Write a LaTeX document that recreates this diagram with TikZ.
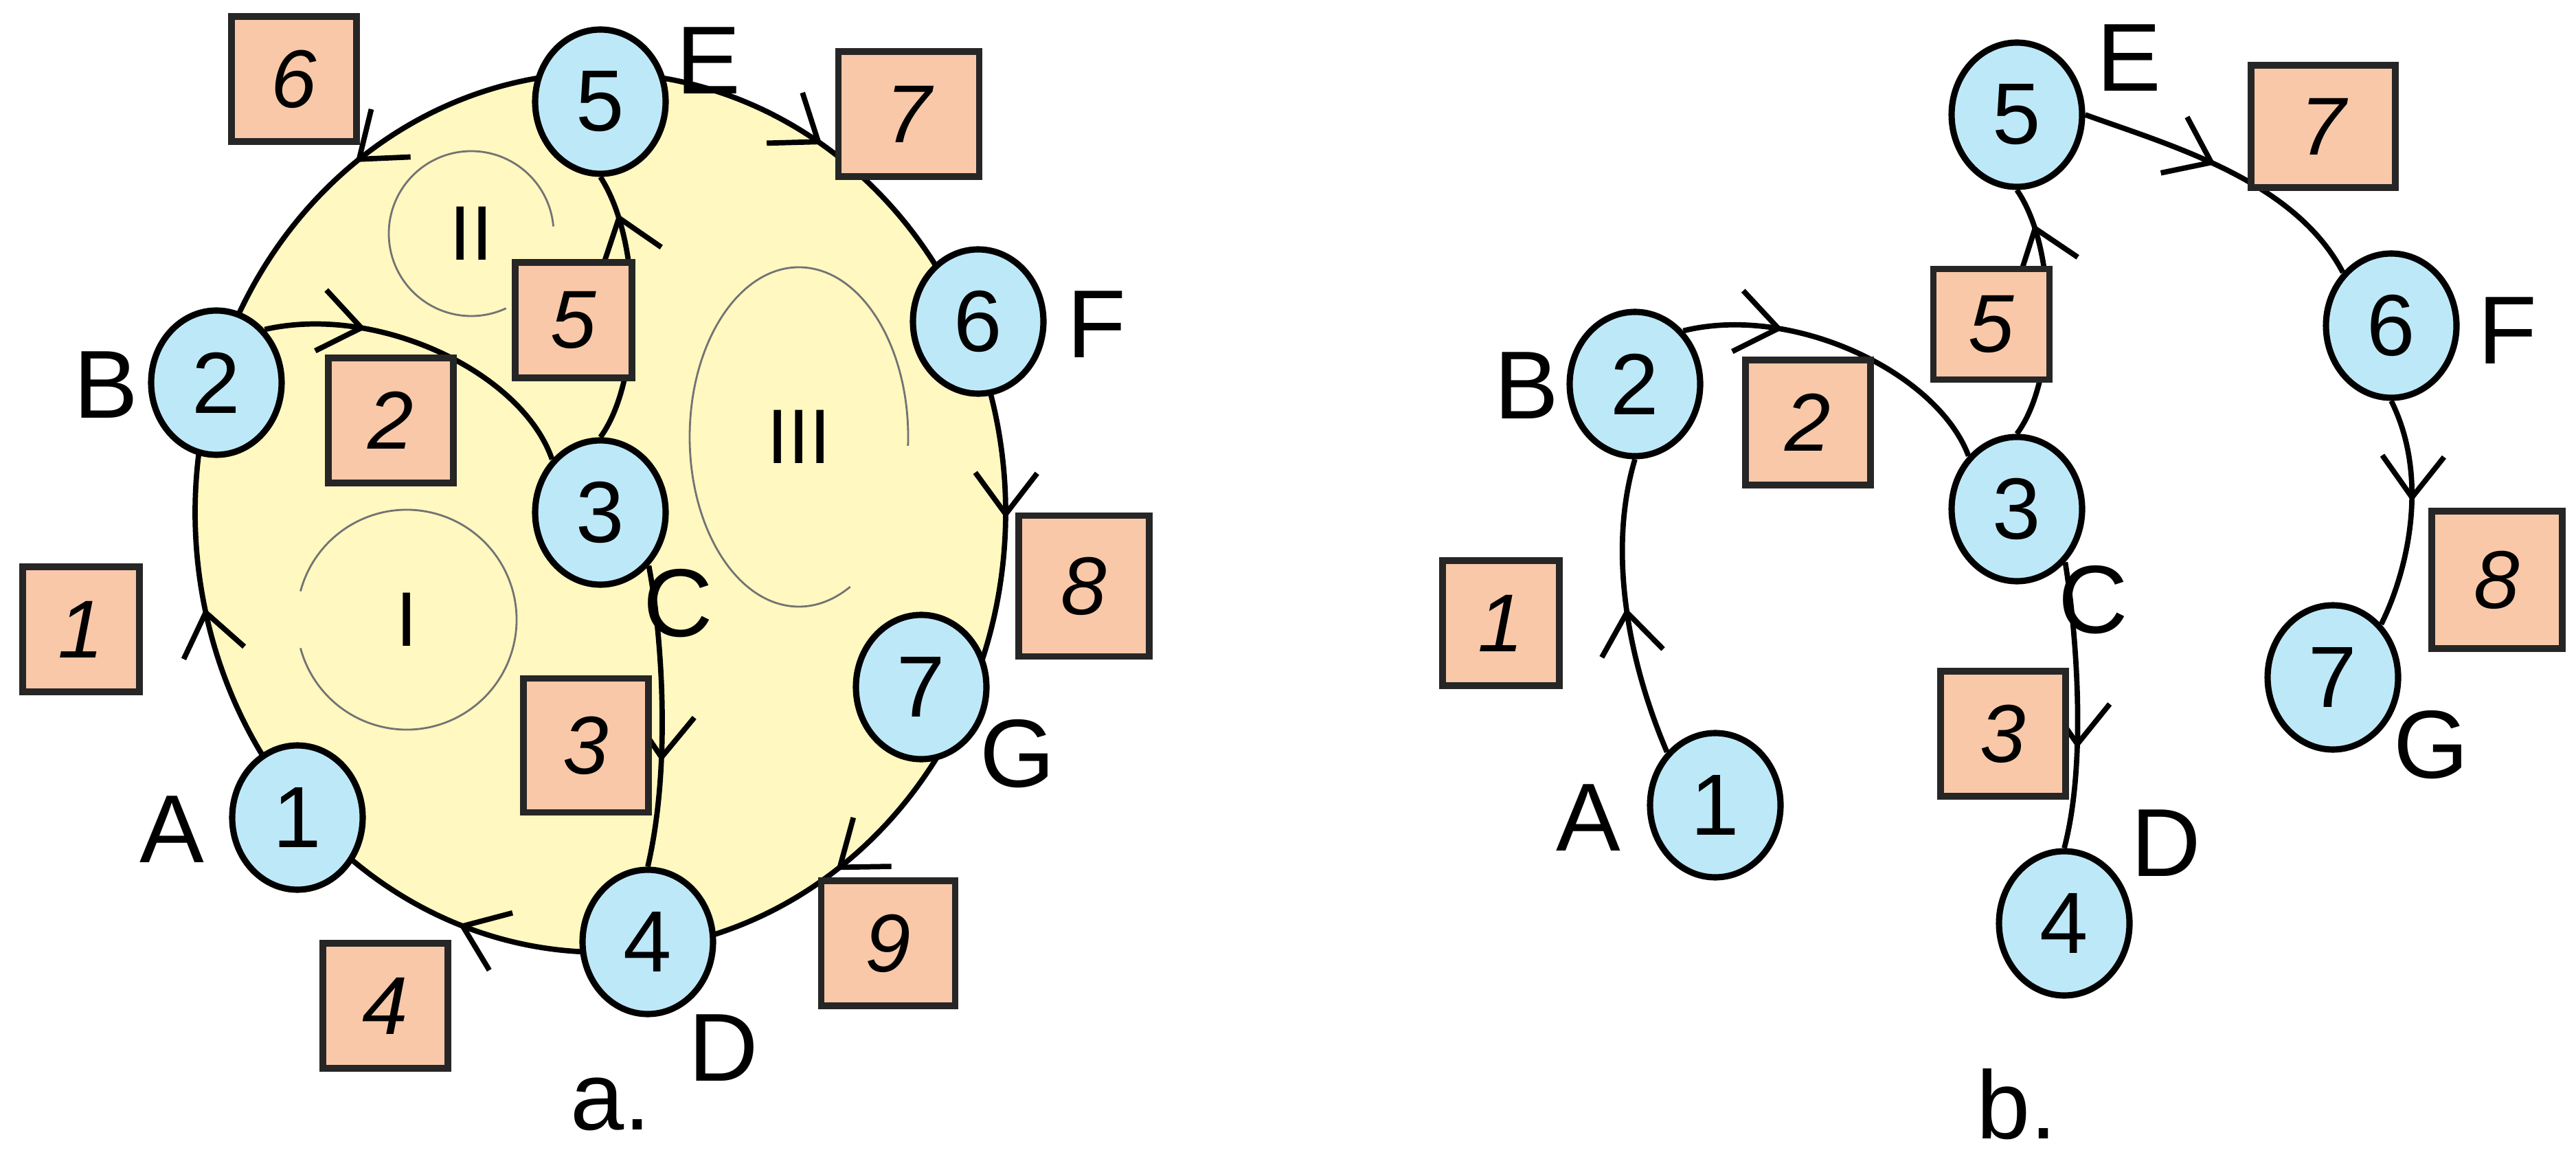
\documentclass[tikz,border=0pt]{standalone}
\usepackage{fontspec}
\setmainfont{Liberation Sans}
\usetikzlibrary{shapes.geometric,arrows.meta,decorations.markings,calc}
\definecolor{nodeblue}{HTML}{BDE8F8}
\definecolor{boxpeach}{HTML}{F8C8A8}
\definecolor{bgyellow}{HTML}{FFF8C0}
\tikzset{
  vnode/.style={ellipse,draw=black,line width=2.6pt,fill=nodeblue,minimum width=1.9cm,minimum height=2.1cm,inner sep=0pt,font=\fontsize{36}{40}\selectfont},
  numbox/.style={rectangle,draw=black!85,line width=2.6pt,fill=boxpeach,minimum width=1.82cm,minimum height=1.82cm,inner sep=0pt,font=\fontsize{34}{38}\selectfont\itshape},
  letter/.style={font=\fontsize{40}{44}\selectfont,inner sep=0pt},
  loopline/.style={draw=black!55,line width=0.8pt},
  edge/.style={draw=black,line width=2.2pt},
  arr/.style={edge,postaction={decorate},decoration={markings,mark=at position #1 with {\arrow{Straight Barb[length=6mm,width=9mm,line width=2.2pt]}}}},
  arr/.default=0.5
}
\begin{document}
\begin{tikzpicture}
\useasboundingbox (0,0) rectangle (37.5,17.02);
% ---------- a ----------
\coordinate (O) at (8.74,9.56);
\fill[bgyellow] (O) ellipse [x radius=5.9,y radius=6.4];
\draw[loopline] ($(5.92,8.00)+(165:1.6)$) arc[start angle=165,end angle=-165,radius=1.6];
\draw[loopline] ($(6.86,13.62)+(5:1.2)$) arc[start angle=5,end angle=295,radius=1.2];
\draw[loopline] ($(11.63,10.66)+(-3:1.59 and 2.47)$) arc[start angle=-3,end angle=298,x radius=1.59,y radius=2.47];
\node[font=\fontsize{32}{36}\selectfont] (rI) at (5.92,8.00) {I};
\node[font=\fontsize{32}{36}\selectfont] (rII) at (6.86,13.62) {II};
\node[font=\fontsize{32}{36}\selectfont] (rIII) at (11.63,10.66) {III};
% ellipse edges
\draw[arr] ($(O)+(222.9:5.9 and 6.4)$) arc[start angle=222.9,end angle=162.7,x radius=5.9,y radius=6.4];
\draw[arr] ($(O)+(90:5.9 and 6.4)$) arc[start angle=90,end angle=162.7,x radius=5.9,y radius=6.4];
\draw[arr] ($(O)+(90:5.9 and 6.4)$) arc[start angle=90,end angle=25,x radius=5.9,y radius=6.4];
\draw[arr] ($(O)+(25:5.9 and 6.4)$) arc[start angle=25,end angle=-26.6,x radius=5.9,y radius=6.4];
\draw[arr] ($(O)+(-26.6:5.9 and 6.4)$) arc[start angle=-26.6,end angle=-83.2,x radius=5.9,y radius=6.4];
\draw[arr] ($(O)+(-83.2:5.9 and 6.4)$) arc[start angle=-83.2,end angle=-137.1,x radius=5.9,y radius=6.4];
\node[vnode] (a1) at (4.33,5.12) {1};
\node[vnode] (a2) at (3.15,11.45) {2};
\node[vnode] (a3) at (8.74,9.56) {3};
\node[vnode] (a4) at (9.43,3.31) {4};
\node[vnode] (a5) at (8.74,15.54) {5};
\node[vnode] (a6) at (14.24,12.34) {6};
\node[vnode] (a7) at (13.41,7.02) {7};
\draw[arr=0.3] (a2.north east) .. controls (5.5,12.6) and (7.6,11.6) .. (a3.north west);
\draw[arr=0.85] (a3.north) .. controls (9.35,11.5) and (9.35,13.5) .. (a5.south);
\draw[arr=0.65] (a3.south east) .. controls (9.6,8.0) and (9.8,6.0) .. (a4.north);
\node[numbox] (b6) at (4.28,15.87) {6};
\node[numbox,minimum width=2.05cm] (b7) at (13.23,15.36) {7};
\node[numbox,minimum width=1.7cm,minimum height=1.68cm] (b5) at (8.35,12.36) {5};
\node[numbox] (b2) at (5.69,10.90) {2};
\node[numbox,minimum width=1.7cm] (b1) at (1.18,7.86) {1};
\node[numbox,minimum height=1.95cm] (b3) at (8.53,6.17) {3};
\node[numbox,minimum width=1.9cm,minimum height=2.05cm] (b8) at (15.78,8.49) {8};
\node[numbox,minimum width=1.95cm] (b9) at (12.93,3.29) {9};
\node[numbox] (b4) at (5.61,2.38) {4};
\node[letter] (la) at (2.50,4.95) {A};
\node[letter] (lb) at (1.54,11.42) {B};
\node[letter] (lc) at (9.87,8.24) {C};
\node[letter] (ld) at (10.53,1.77) {D};
\node[letter] (le) at (10.31,16.14) {E};
\node[letter] (lf) at (15.96,12.30) {F};
\node[letter] (lg) at (14.81,6.05) {G};
\node[letter] (capa) at (8.89,0.95) {a.};
% ---------- b ----------
\node[vnode] (c1) at (24.97,5.30) {1};
\node[vnode] (c2) at (23.80,11.43) {2};
\node[vnode] (c3) at (29.36,9.61) {3};
\node[vnode] (c4) at (30.05,3.58) {4};
\node[vnode] (c5) at (29.36,15.35) {5};
\node[vnode] (c6) at (34.81,12.28) {6};
\node[vnode] (c7) at (33.96,7.16) {7};
\draw[arr] (c1.north west) .. controls (23.7,7.4) and (23.4,9.0) .. (c2.south);
\draw[arr=0.3] (c2.north east) .. controls (26.1,12.6) and (28.2,11.6) .. (c3.north west);
\draw[arr=0.85] (c3.north) .. controls (29.95,11.5) and (29.95,13.4) .. (c5.south);
\draw[arr=0.65] (c3.south east) .. controls (30.2,8.0) and (30.4,6.0) .. (c4.north);
\draw[arr=0.45] (c5.east) .. controls (31.6,14.9) and (33.4,14.4) .. (c6.north west);
\draw[arr=0.45] (c6.south) .. controls (35.4,10.0) and (35.0,8.6) .. (c7.north east);
\node[numbox,minimum width=2.1cm,minimum height=1.78cm] (d7) at (33.82,15.18) {7};
\node[numbox,minimum width=1.69cm,minimum height=1.61cm] (d5) at (28.99,12.30) {5};
\node[numbox] (d2) at (26.32,10.87) {2};
\node[numbox,minimum width=1.7cm] (d1) at (21.85,7.95) {1};
\node[numbox] (d3) at (29.16,6.34) {3};
\node[numbox,minimum width=1.9cm,minimum height=2.0cm] (d8) at (36.35,8.58) {8};
\node[letter] (ma) at (23.12,5.12) {A};
\node[letter] (mb) at (22.22,11.41) {B};
\node[letter] (mc) at (30.47,8.29) {C};
\node[letter] (md) at (31.53,4.75) {D};
\node[letter] (me) at (30.99,16.18) {E};
\node[letter] (mf) at (36.50,12.21) {F};
\node[letter] (mg) at (35.39,6.18) {G};
\node[letter] (capb) at (29.36,0.95) {b.};
\end{tikzpicture}
\end{document}
